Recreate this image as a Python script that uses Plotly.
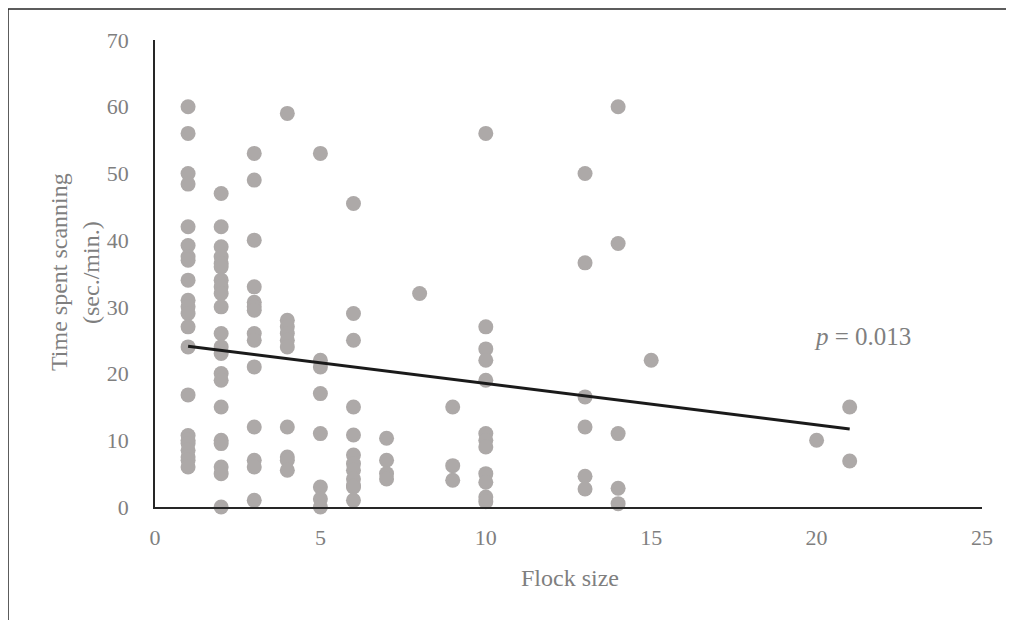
import plotly.graph_objects as go

# Flock size (x) and time spent scanning (y, sec./min.)
flock_size = (
    [1] * 22 + [2] * 21 + [3] * 14 + [4] * 10 + [5] * 8 + [6] * 12 + [7] * 4 + [8] * 1
    + [9] * 3 + [10] * 12 + [13] * 6 + [14] * 5 + [15] * 1 + [20] * 1 + [21] * 2
)
scan_time = (
    [60, 56, 50, 48.4, 42, 39.2, 37.5, 37, 34, 31, 30, 29, 27, 24, 16.8,
     10.7, 10, 9.5, 8.5, 7.5, 7, 6]
    + [47, 42, 39, 37.5, 36.5, 36, 34, 33, 32, 30, 26, 24, 23, 20, 19, 15, 10, 9.5, 6, 5, 0]
    + [53, 49, 40, 33, 30.7, 30, 29.5, 26, 25, 21, 12, 7, 6, 1]
    + [59, 28, 27, 26, 25, 24, 12, 7.5, 7, 5.5]
    + [53, 22, 21, 17, 11, 3, 1.2, 0]
    + [45.5, 29, 25, 15, 10.8, 7.8, 6.5, 5.5, 4.2, 3.2, 3, 1]
    + [10.3, 7, 5, 4.2]
    + [32]
    + [15, 6.2, 4]
    + [56, 27, 23.7, 22, 19, 11, 10, 9, 5, 3.7, 1.5, 0.8]
    + [50, 36.6, 16.5, 12, 4.6, 2.7]
    + [60, 39.5, 11, 2.8, 0.5]
    + [22]
    + [10]
    + [15, 6.9]
)

# linear trend line end points
trend_x = [1, 21]
trend_y = [24.1, 11.7]

x_ticks = [0, 5, 10, 15, 20, 25]
y_ticks = [0, 10, 20, 30, 40, 50, 60, 70]

FONT = "Liberation Serif"
GRAY = "#7f7f7f"
DARK = "#262626"

# plot area in page pixels (page has an 8px body offset)
OFF = 8
L, R, T, B = 155, 982, 40, 507
W, H = 1014, 620


def px(v):
    return (v - L) / (R - L)


def py(v):
    return (B - v) / (B - T)


fig = go.Figure()
fig.add_trace(go.Scatter(
    x=flock_size, y=scan_time, mode="markers",
    marker=dict(size=15, color="#ada9a8"),
    cliponaxis=False, showlegend=False,
))
fig.add_trace(go.Scatter(
    x=trend_x, y=trend_y, mode="lines",
    line=dict(color="#1a1a1a", width=3),
    showlegend=False,
))


def label(text, x, y, size, angle=0):
    fig.add_annotation(
        x=px(x), y=py(y), xref="paper", yref="paper",
        xanchor="center", yanchor="middle",
        text=text, textangle=angle, showarrow=False,
        font=dict(family=FONT, size=size, color=GRAY),
    )


label("<i>p</i> = 0.013", 862, 336, 25)
label("Time spent scanning", 59, 272, 24, -90)
label("(sec./min.)", 91, 273, 24, -90)
label("Flock size", 570, 578, 24)

# outer frame (open at right/bottom, as cropped)
fig.add_shape(type="line", xref="paper", yref="paper",
              x0=px(8), x1=px(8), y0=py(9), y1=py(700),
              line=dict(color=DARK, width=1.5))
fig.add_shape(type="line", xref="paper", yref="paper",
              x0=px(8), x1=px(1100), y0=py(9), y1=py(9),
              line=dict(color=DARK, width=1.5))

fig.update_layout(
    width=W, height=H,
    margin=dict(l=L - OFF, r=W + OFF - R, t=T - OFF, b=H + OFF - B),
    paper_bgcolor="white", plot_bgcolor="white",
    font=dict(family=FONT, color=GRAY, size=22),
    xaxis=dict(
        range=[0, 25], tickvals=x_ticks, showgrid=False, zeroline=False,
        showline=True, linecolor=DARK, linewidth=2,
        ticks="", tickfont=dict(size=22, color=GRAY), ticklabelstandoff=10,
    ),
    yaxis=dict(
        range=[0, 70], tickvals=y_ticks, showgrid=False, zeroline=False,
        showline=True, linecolor=DARK, linewidth=1.5,
        ticks="", tickfont=dict(size=22, color=GRAY), ticklabelstandoff=20,
    ),
)

fig.write_html("out.html")
